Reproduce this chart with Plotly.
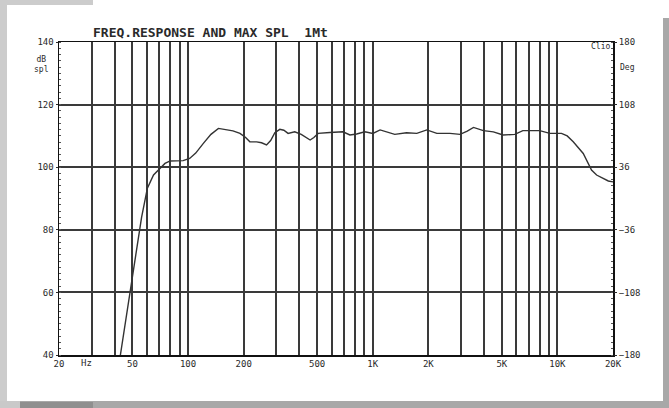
import plotly.graph_objects as go

# ---- data ----
freq_hz = [43, 47, 52.7, 56, 60.2, 65, 70.4, 75, 80, 88, 94, 102, 110, 121, 133, 146,
           160, 175, 191, 205, 216, 235, 250, 266, 280, 295, 314, 330, 348, 378, 410,
           458, 480, 506, 586, 634, 690, 752, 818, 906, 1002, 1096, 1200, 1316, 1524,
           1732, 1962, 2224, 2620, 2970, 3250, 3512, 3974, 4500, 5080, 5880, 6500,
           8020, 9100, 10520, 11300, 12180, 13800, 15300, 16300, 18860, 20000]
spl_db = [40, 55, 73.5, 84, 93.3, 97.5, 99.6, 101.2, 102.0, 102.1, 102.1, 102.8, 104.5,
          107.6, 110.5, 112.4, 112.1, 111.6, 110.8, 109.5, 108.1, 108.1, 107.8, 107.1,
          108.5, 111.0, 112.1, 111.8, 110.8, 111.3, 110.5, 108.7, 109.5, 110.8, 111.1,
          111.1, 111.3, 110.3, 110.6, 111.3, 110.8, 111.9, 111.2, 110.5, 111.0, 110.8,
          111.9, 110.8, 110.8, 110.5, 111.5, 112.7, 111.7, 111.3, 110.3, 110.5, 111.7,
          111.7, 110.8, 110.8, 110.0, 108.1, 104.4, 99.1, 97.5, 95.6, 95.3]

grid_freqs = [20, 30, 40, 50, 60, 70, 80, 90, 100, 200, 300, 400, 500, 600, 700, 800, 900,
              1000, 2000, 3000, 4000, 5000, 6000, 7000, 8000, 9000, 10000, 20000]
freq_labels = {20: "20", 50: "50", 100: "100", 200: "200", 500: "500", 1000: "1K",
               2000: "2K", 5000: "5K", 10000: "10K", 20000: "20K"}
spl_ticks = [40, 60, 80, 100, 120, 140]
deg_ticks = [-180, -108, -36, 36, 108, 180]

W, H = 669, 408
L, R, T, B = 59, 613, 42, 355
PW, PH = R - L, B - T

def px(x):
    return (x - L) / PW

def py(y):
    return (B - y) / PH

font = "DejaVu Sans Mono"
ink = "#2a2a2a"
gridc = "#3a3a3a"

fig = go.Figure()
fig.add_trace(go.Scatter(x=freq_hz, y=spl_db, mode="lines",
                         line=dict(color="#333333", width=1.4),
                         hoverinfo="skip", showlegend=False))
# invisible trace for the secondary axis
fig.add_trace(go.Scatter(x=[20, 20000], y=[-180, 180], yaxis="y2", mode="lines",
                         line=dict(width=0), hoverinfo="skip", showlegend=False))

fig.update_layout(
    width=W, height=H,
    margin=dict(l=L, r=W - R, t=T, b=H - B, pad=0),
    paper_bgcolor="white", plot_bgcolor="white",
    font=dict(family=font, size=9, color=ink),
    xaxis=dict(type="log", range=[1.30103, 4.30103],
               tickvals=grid_freqs,
               ticktext=[freq_labels.get(f, "") for f in grid_freqs],
               showgrid=True, gridcolor=gridc, gridwidth=2,
               showline=True, linecolor="#111", linewidth=1.5, mirror=True,
               ticks="", tickfont=dict(family=font, size=9, color=ink),
               zeroline=False),
    yaxis=dict(range=[40, 140], tickvals=spl_ticks,
               showgrid=True, gridcolor=gridc, gridwidth=2,
               showline=True, linecolor="#111", linewidth=1.5, mirror=True,
               ticks="outside", ticklen=2, tickcolor=ink,
               minor=dict(dtick=2, ticks="inside", ticklen=2, tickcolor="#555", showgrid=False),
               tickfont=dict(family=font, size=9, color=ink), zeroline=False),
    yaxis2=dict(range=[-180, 180], tickvals=deg_ticks, overlaying="y", side="right",
                showgrid=False, ticks="outside", ticklen=3, tickcolor=ink,
                minor=dict(dtick=7.2, ticks="inside", ticklen=2, tickcolor="#555"),
                tickfont=dict(family=font, size=9, color=ink), zeroline=False,
                showline=False),
)

# page background frame (gray strips)
def rect(x0, y0, x1, y1, color):
    fig.add_shape(type="rect", xref="paper", yref="paper", layer="below",
                  x0=px(x0), x1=px(x1), y0=py(y1), y1=py(y0),
                  line=dict(width=0), fillcolor=color)

rect(0, 0, 7, 401, "#cccccc")
rect(0, 0, 93, 5, "#cccccc")
rect(663, 18, 669, 408, "#a8a8a8")
rect(0, 401, 669, 408, "#a8a8a8")
rect(0, 401, 20, 408, "#c9c9c9")
rect(20, 402, 93, 408, "#8f8f8f")

def ann(text, x, y, size=9, xanchor="center", bold=False):
    fig.add_annotation(text=("<b>%s</b>" % text) if bold else text,
                       xref="paper", yref="paper", x=px(x), y=py(y),
                       xanchor=xanchor, yanchor="middle", showarrow=False,
                       font=dict(family=font, size=size, color=ink), align="center")

ann("FREQ.RESPONSE AND MAX SPL  1Mt", 91, 33, size=13, xanchor="left", bold=True)
ann("dB<br>spl", 41, 64, size=8)
ann("Deg", 627, 68, size=8)
ann("Clio", 600, 46, size=8)
ann("Hz", 86, 363, size=9)

fig.write_html("out.html", config={"displayModeBar": False, "staticPlot": True},
               post_script="document.body.style.margin='0';document.body.style.overflow='hidden';")
